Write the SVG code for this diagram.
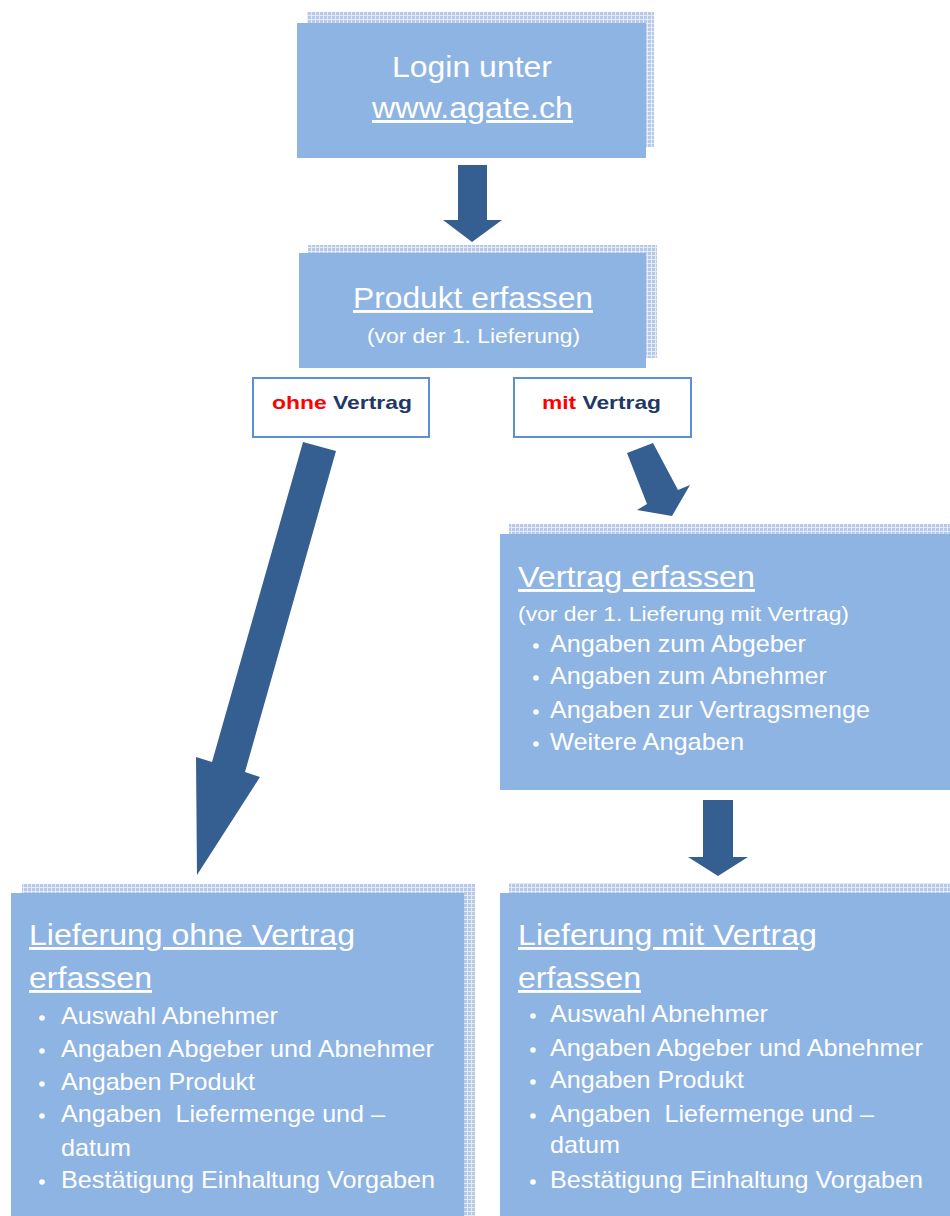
<svg xmlns="http://www.w3.org/2000/svg" width="950" height="1216" viewBox="0 0 950 1216">
<defs>
<pattern id="grid" width="4" height="4" patternUnits="userSpaceOnUse">
<rect width="4" height="4" fill="#e4ebf7"/>
<rect width="3" height="3" fill="#b7c9e8"/>
</pattern>
</defs>
<style>
.box{fill:#8eb4e3}
.shadow{fill:url(#grid)}
.arrow{fill:#365f91}
.lbl{fill:#ffffff;stroke:#5b8fd9;stroke-width:2}
text{font-family:"Liberation Sans",Arial,sans-serif;fill:#ffffff;white-space:pre}
.t{font-size:29px}
.u{text-decoration:underline}
.s{font-size:20px}
.b{font-size:24px}
.l{font-size:19px;font-weight:bold;fill:#1f3864}
.red{fill:#ff0000}
.dot{fill:#ffffff}
</style>
<rect width="950" height="1216" fill="#ffffff"/>

<g id="connectors">
<path class="arrow" d="M458,165 H487 V220 H502 L472,242 L443,220 H458 Z"/>
<path class="arrow" d="M303,442 L336,451 L245,772 L260,777 L197,875 L196,757 L212,762 Z"/>
<path class="arrow" d="M627,453 L653,443 L678,490 L690,485 L672,516 L637,510 L647,504 Z"/>
<path class="arrow" d="M703,800 H733 V857 H748 L718,876 L688,857 H703 Z"/>
</g>

<g id="login">
<rect class="shadow" x="307" y="12" width="347" height="135"/>
<rect class="box" x="297" y="23" width="349" height="135"/>
<text class="t" x="392" y="77" textLength="160" lengthAdjust="spacingAndGlyphs">Login unter</text>
<text class="t u" x="372" y="118" textLength="201" lengthAdjust="spacingAndGlyphs">www.agate.ch</text>
</g>

<g id="produkt">
<rect class="shadow" x="308" y="245" width="349" height="113"/>
<rect class="box" x="299" y="253" width="347" height="115"/>
<text class="t u" x="353" y="308" textLength="240" lengthAdjust="spacingAndGlyphs">Produkt erfassen</text>
<text class="s" x="367" y="343" textLength="213" lengthAdjust="spacingAndGlyphs">(vor der 1. Lieferung)</text>
</g>

<g id="ohne-label">
<rect class="lbl" x="253" y="378" width="176" height="59"/>
<text class="l" x="272" y="409" textLength="140" lengthAdjust="spacingAndGlyphs"><tspan class="red">ohne</tspan> Vertrag</text>
</g>

<g id="mit-label">
<rect class="lbl" x="514" y="378" width="177" height="59"/>
<text class="l" x="542" y="409" textLength="119" lengthAdjust="spacingAndGlyphs"><tspan class="red">mit</tspan> Vertrag</text>
</g>

<g id="vertrag">
<rect class="shadow" x="509" y="524" width="450" height="256"/>
<rect class="box" x="500" y="534" width="460" height="256"/>
<text class="t u" x="518" y="587" textLength="237" lengthAdjust="spacingAndGlyphs">Vertrag erfassen</text>
<text class="s" x="518" y="621" textLength="331" lengthAdjust="spacingAndGlyphs">(vor der 1. Lieferung mit Vertrag)</text>
<circle class="dot" cx="536" cy="646" r="2.8"/>
<text class="b" x="550" y="652" textLength="256" lengthAdjust="spacingAndGlyphs">Angaben zum Abgeber</text>
<circle class="dot" cx="536" cy="678" r="2.8"/>
<text class="b" x="550" y="684" textLength="277" lengthAdjust="spacingAndGlyphs">Angaben zum Abnehmer</text>
<circle class="dot" cx="536" cy="712" r="2.8"/>
<text class="b" x="550" y="718" textLength="320" lengthAdjust="spacingAndGlyphs">Angaben zur Vertragsmenge</text>
<circle class="dot" cx="536" cy="744" r="2.8"/>
<text class="b" x="550" y="750" textLength="194" lengthAdjust="spacingAndGlyphs">Weitere Angaben</text>
</g>

<g id="lieferung-ohne">
<rect class="shadow" x="22" y="884" width="453" height="340"/>
<rect class="box" x="11" y="893" width="453" height="330"/>
<text class="t u" x="29" y="945" textLength="326" lengthAdjust="spacingAndGlyphs">Lieferung ohne Vertrag</text>
<text class="t u" x="29" y="988" textLength="123" lengthAdjust="spacingAndGlyphs">erfassen</text>
<circle class="dot" cx="42" cy="1018" r="2.8"/>
<text class="b" x="61" y="1024" textLength="217" lengthAdjust="spacingAndGlyphs">Auswahl Abnehmer</text>
<circle class="dot" cx="42" cy="1051" r="2.8"/>
<text class="b" x="61" y="1057" textLength="373" lengthAdjust="spacingAndGlyphs">Angaben Abgeber und Abnehmer</text>
<circle class="dot" cx="42" cy="1084" r="2.8"/>
<text class="b" x="61" y="1090" textLength="194" lengthAdjust="spacingAndGlyphs">Angaben Produkt</text>
<circle class="dot" cx="42" cy="1116" r="2.8"/>
<text class="b" x="61" y="1122" textLength="324" lengthAdjust="spacingAndGlyphs">Angaben  Liefermenge und –</text>
<text class="b" x="61" y="1156" textLength="70" lengthAdjust="spacingAndGlyphs">datum</text>
<circle class="dot" cx="42" cy="1182" r="2.8"/>
<text class="b" x="61" y="1188" textLength="374" lengthAdjust="spacingAndGlyphs">Bestätigung Einhaltung Vorgaben</text>
</g>

<g id="lieferung-mit">
<rect class="shadow" x="509" y="883" width="450" height="340"/>
<rect class="box" x="500" y="893" width="460" height="330"/>
<text class="t u" x="518" y="945" textLength="299" lengthAdjust="spacingAndGlyphs">Lieferung mit Vertrag</text>
<text class="t u" x="518" y="988" textLength="123" lengthAdjust="spacingAndGlyphs">erfassen</text>
<circle class="dot" cx="533" cy="1016" r="2.8"/>
<text class="b" x="550" y="1022" textLength="218" lengthAdjust="spacingAndGlyphs">Auswahl Abnehmer</text>
<circle class="dot" cx="533" cy="1050" r="2.8"/>
<text class="b" x="550" y="1056" textLength="373" lengthAdjust="spacingAndGlyphs">Angaben Abgeber und Abnehmer</text>
<circle class="dot" cx="533" cy="1082" r="2.8"/>
<text class="b" x="550" y="1088" textLength="194" lengthAdjust="spacingAndGlyphs">Angaben Produkt</text>
<circle class="dot" cx="533" cy="1116" r="2.8"/>
<text class="b" x="550" y="1122" textLength="324" lengthAdjust="spacingAndGlyphs">Angaben  Liefermenge und –</text>
<text class="b" x="550" y="1153" textLength="70" lengthAdjust="spacingAndGlyphs">datum</text>
<circle class="dot" cx="533" cy="1182" r="2.8"/>
<text class="b" x="550" y="1188" textLength="373" lengthAdjust="spacingAndGlyphs">Bestätigung Einhaltung Vorgaben</text>
</g>
</svg>
